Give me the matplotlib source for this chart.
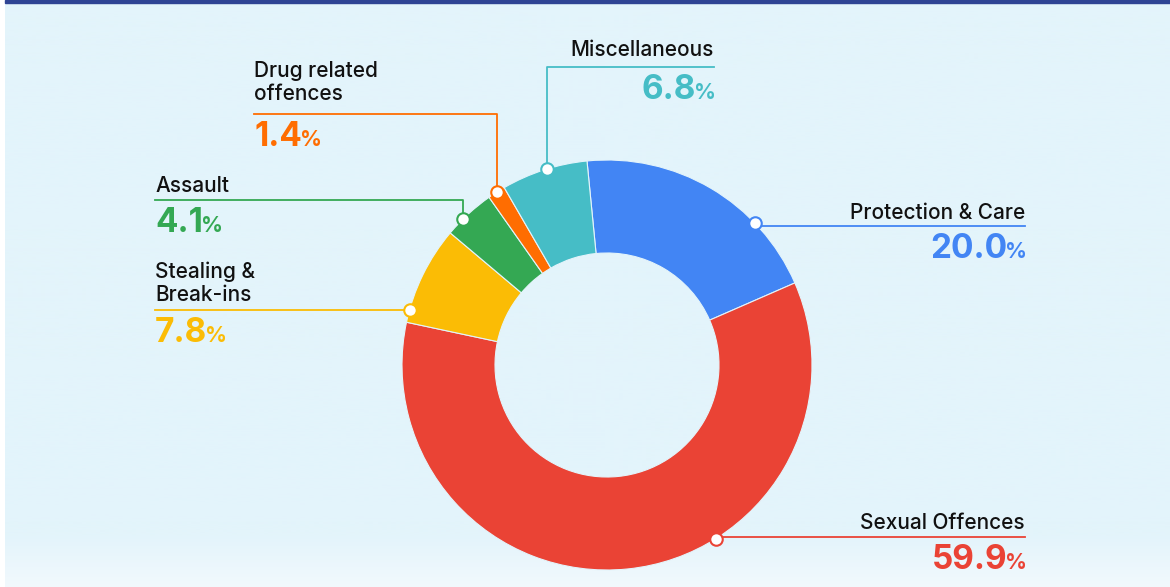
import numpy as np
import matplotlib.pyplot as plt

# slice data, clockwise from the top
categories = ["Protection & Care", "Sexual Offences", "Stealing &\nBreak-ins",
              "Assault", "Drug related\noffences", "Miscellaneous"]
shares = [20.0, 59.9, 7.8, 4.1, 1.4, 6.8]
colors = ["#4285F4", "#EA4335", "#FBBC05", "#34A853", "#FF6D01", "#46BDC6"]

W, H = 1170, 587
fig = plt.figure(figsize=(W / 100, H / 100), dpi=100)
fig.patch.set_facecolor("white")
ax = fig.add_axes([0, 0, 1, 1])
ax.set_xlim(0, W)
ax.set_ylim(0, H)
ax.axis("off")

# background panel with soft fade at the bottom (row 0 = top)
bg = np.ones((H, 1, 3))
top = np.array([0xE3, 0xF4, 0xFB]) / 255
bot = np.array([0xF2, 0xF9, 0xFD]) / 255
for i in range(H):
    t = 0 if i < 535 else (i - 535) / (H - 535)
    bg[i, 0] = top * (1 - t) + bot * t
ax.imshow(bg, extent=[5, W, 0, H - 2], aspect="auto", zorder=0)
ax.add_patch(plt.Rectangle((5, H - 3), W - 5, 3, color="#2E4494", zorder=1))

def Y(y):
    return H - y

cx, cy, R = 607, Y(365), 205
start = 95.6
wedges, _ = ax.pie(shares, colors=colors, startangle=start, counterclock=False,
                   center=(cx, cy), radius=R,
                   wedgeprops=dict(width=R - 112, edgecolor="#E3F4FB", linewidth=0.8))
ax.set_xlim(0, W)
ax.set_ylim(0, H)
ax.set_aspect("equal")

# where the connector dot sits inside each wedge (fraction of the wedge)
dot_frac = [0.72, 0.378, 0.13, 0.35, 0.5, 0.53]
# label layout: (text x, align, name top y, rule y, corner)
layout = [
    (1025, "right", 203, 226, False),
    (1025, "right", 513, 537, False),
    (155, "left", 262, 310, False),
    (155, "left", 176, 200, True),
    (254, "left", 61, 114, True),
    (714, "right", 40, 67, True),
]

fam = ["Inter", "DejaVu Sans"]
renderer = fig.canvas.get_renderer()
cum = np.cumsum([0] + shares)
for k, (name, val, col) in enumerate(zip(categories, shares, colors)):
    a0 = start - cum[k] * 3.6
    ang = np.deg2rad(a0 - (shares[k] * 3.6) * dot_frac[k])
    dx, dy = cx + R * np.cos(ang), cy + R * np.sin(ang)
    tx, ha, ny, ry, corner = layout[k]
    if corner:
        ax.plot([tx, dx, dx], [Y(ry), Y(ry), dy], color=col, lw=1.3, zorder=3)
    else:
        ax.plot([tx, dx], [Y(ry), Y(ry)], color=col, lw=1.3, zorder=3)
    ax.plot(dx, dy, "o", ms=9, mfc="white", mec=col, mew=1.5, zorder=4)
    ax.text(tx, Y(ny), name, ha=ha, va="top", fontsize=15, fontweight="medium",
            color="#111111", family=fam, linespacing=1.18, zorder=5)
    num = f"{val:.1f}"
    py = Y(ry + 32)
    if ha == "left":
        t = ax.text(tx, py, num, ha="left", va="baseline", fontsize=24,
                    fontweight="bold", color=col, family=fam, zorder=5)
        bb = t.get_window_extent(renderer)
        ax.text(bb.x1 - 2, py, "%", ha="left", va="baseline", fontsize=15.5,
                fontweight="bold", color=col, family=fam, zorder=5)
    else:
        p = ax.text(tx + 2, py, "%", ha="right", va="baseline", fontsize=15.5,
                    fontweight="bold", color=col, family=fam, zorder=5)
        bb = p.get_window_extent(renderer)
        ax.text(bb.x0 + 2, py, num, ha="right", va="baseline", fontsize=24,
                fontweight="bold", color=col, family=fam, zorder=5)

fig.savefig("out.png", dpi=100, facecolor=fig.get_facecolor())
